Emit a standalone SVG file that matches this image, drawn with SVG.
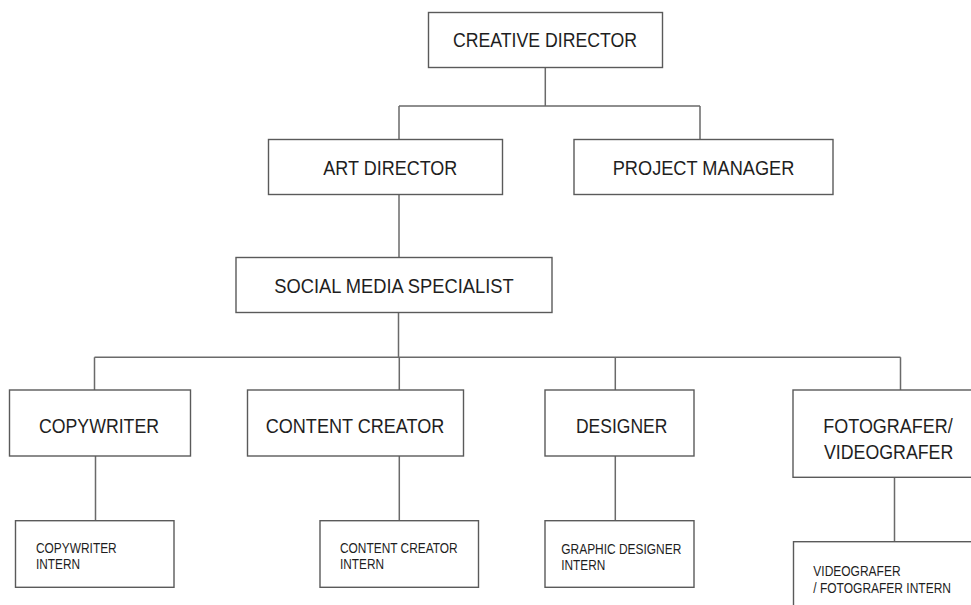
<svg xmlns="http://www.w3.org/2000/svg" width="971" height="605" viewBox="0 0 971 605">
<style>
.box{fill:#fff;stroke:#5a5a5a;stroke-width:1.4}
.ln{fill:none;stroke:#6a6a6a;stroke-width:1.5}
.t{font-family:"Liberation Sans",Arial,sans-serif;font-size:20px;fill:#1e1e1e}
.s{font-family:"Liberation Sans",Arial,sans-serif;font-size:14px;fill:#1e1e1e}
</style>
<rect width="971" height="605" fill="#fff"/>
<g id="connectors">
<path class="ln" d="M545.3,67.7V106M399,106H700M399,106V139.5M700,106V139.5"/>
<path class="ln" d="M399,194.5V257.5"/>
<path class="ln" d="M398.5,312.5V357.3M94.5,357.3H900.5M94.5,357.3V390M399.3,357.3V390M615.3,357.3V390M900.5,357.3V390"/>
<path class="ln" d="M95.5,456V520.7M399.3,456V520.7M615.3,456V520.7M894.5,477.3V541.7"/>
</g>
<g id="creative-director">
<rect class="box" x="428.5" y="12.5" width="234" height="55"/>
<text class="t" x="453" y="46.7" textLength="184" lengthAdjust="spacingAndGlyphs">CREATIVE DIRECTOR</text>
</g>
<g id="art-director">
<rect class="box" x="268.5" y="139.5" width="234" height="55"/>
<text class="t" x="323.3" y="175" textLength="134" lengthAdjust="spacingAndGlyphs">ART DIRECTOR</text>
</g>
<g id="project-manager">
<rect class="box" x="574" y="139.5" width="259" height="55"/>
<text class="t" x="612.7" y="175" textLength="181.7" lengthAdjust="spacingAndGlyphs">PROJECT MANAGER</text>
</g>
<g id="social-media-specialist">
<rect class="box" x="236" y="257.5" width="316" height="55"/>
<text class="t" x="274.3" y="293.3" textLength="239.3" lengthAdjust="spacingAndGlyphs">SOCIAL MEDIA SPECIALIST</text>
</g>
<g id="copywriter">
<rect class="box" x="9.5" y="390" width="181" height="66"/>
<text class="t" x="39" y="432.7" textLength="120" lengthAdjust="spacingAndGlyphs">COPYWRITER</text>
</g>
<g id="content-creator">
<rect class="box" x="247.5" y="390" width="216" height="66"/>
<text class="t" x="265.7" y="432.7" textLength="178.7" lengthAdjust="spacingAndGlyphs">CONTENT CREATOR</text>
</g>
<g id="designer">
<rect class="box" x="545" y="390" width="149" height="66"/>
<text class="t" x="576" y="432.7" textLength="91.3" lengthAdjust="spacingAndGlyphs">DESIGNER</text>
</g>
<g id="fotografer-videografer">
<rect class="box" x="793" y="390" width="190" height="87.3"/>
<text class="t" x="823.3" y="432.7" textLength="129.4" lengthAdjust="spacingAndGlyphs">FOTOGRAFER/</text>
<text class="t" x="824" y="459.3" textLength="129.3" lengthAdjust="spacingAndGlyphs">VIDEOGRAFER</text>
</g>
<g id="copywriter-intern">
<rect class="box" x="15.5" y="520.7" width="158.5" height="66.6"/>
<text class="s" x="36" y="552.7" textLength="80.7" lengthAdjust="spacingAndGlyphs">COPYWRITER</text>
<text class="s" x="36" y="569.3" textLength="44" lengthAdjust="spacingAndGlyphs">INTERN</text>
</g>
<g id="content-creator-intern">
<rect class="box" x="320" y="520.7" width="158.5" height="66.6"/>
<text class="s" x="340" y="552.7" textLength="117.7" lengthAdjust="spacingAndGlyphs">CONTENT CREATOR</text>
<text class="s" x="340" y="569.3" textLength="44" lengthAdjust="spacingAndGlyphs">INTERN</text>
</g>
<g id="graphic-designer-intern">
<rect class="box" x="545" y="520.7" width="149" height="66.6"/>
<text class="s" x="561.3" y="553.5" textLength="120" lengthAdjust="spacingAndGlyphs">GRAPHIC DESIGNER</text>
<text class="s" x="561.3" y="570.2" textLength="44" lengthAdjust="spacingAndGlyphs">INTERN</text>
</g>
<g id="videografer-fotografer-intern">
<rect class="box" x="793.5" y="541.7" width="190" height="80"/>
<text class="s" x="813.3" y="576" textLength="87.3" lengthAdjust="spacingAndGlyphs">VIDEOGRAFER</text>
<text class="s" x="813.3" y="592.7" textLength="137.7" lengthAdjust="spacingAndGlyphs">/ FOTOGRAFER INTERN</text>
</g>
</svg>
